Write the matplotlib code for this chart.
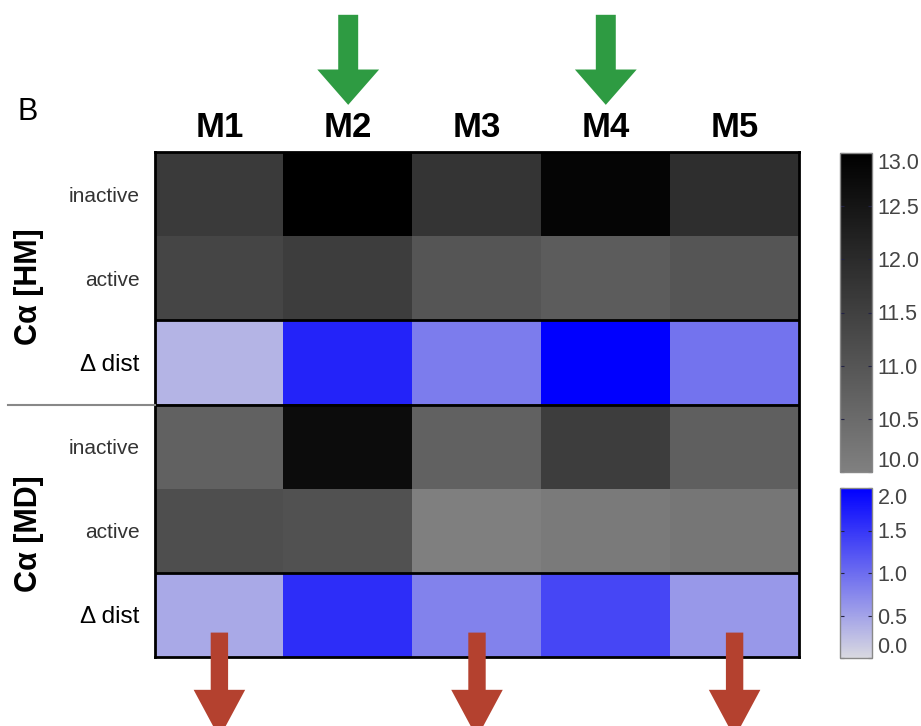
import numpy as np
import matplotlib
matplotlib.use("Agg")
import matplotlib.pyplot as plt
from matplotlib.colors import LinearSegmentedColormap, Normalize
from matplotlib.cm import ScalarMappable
from matplotlib.patches import FancyArrow
from matplotlib.lines import Line2D

plt.rcParams['font.family'] = ['Liberation Sans', 'DejaVu Sans']

# Ca distances for the five models
models = ['M1', 'M2', 'M3', 'M4', 'M5']
row_labels = ['inactive', 'active', '\u0394 dist', 'inactive', 'active', '\u0394 dist']
hm_inactive = [11.64, 13.0, 11.78, 12.86, 11.92]
hm_active = [11.36, 11.55, 11.0, 10.84, 11.0]
hm_delta = [0.34, 1.67, 0.85, 2.0, 0.93]
md_inactive = [10.70, 12.70, 10.70, 11.55, 10.77]
md_active = [11.17, 11.08, 10.0, 10.14, 10.23]
md_delta = [0.44, 1.58, 0.79, 1.35, 0.60]

green_cols = [1, 3]      # M2, M4
red_cols = [0, 2, 4]     # M1, M3, M5

W, H = 921, 726
fig = plt.figure(figsize=(W / 100, H / 100), dpi=100)


def box(x0, y0, x1, y1):
    return [x0 / W, 1 - y1 / H, (x1 - x0) / W, (y1 - y0) / H]


ax = fig.add_axes(box(155, 152, 799, 657))

dist = np.array([hm_inactive, hm_active, hm_delta, md_inactive, md_active, md_delta])
is_delta = np.array([False, False, True, False, False, True])

gray_cmap = LinearSegmentedColormap.from_list('g', [(0.5, 0.5, 0.5), (0, 0, 0)])
blue_cmap = LinearSegmentedColormap.from_list('b', [(0.85, 0.85, 0.88), (0, 0, 1)])
gray_norm = Normalize(10, 13)
blue_norm = Normalize(0, 2)

gray_part = np.ma.masked_where(np.repeat(is_delta[:, None], 5, axis=1), dist)
blue_part = np.ma.masked_where(np.repeat(~is_delta[:, None], 5, axis=1), dist)
ax.imshow(gray_part, cmap=gray_cmap, norm=gray_norm, aspect='auto',
          extent=(0, 5, 6, 0), interpolation='nearest')
ax.imshow(blue_part, cmap=blue_cmap, norm=blue_norm, aspect='auto',
          extent=(0, 5, 6, 0), interpolation='nearest')
ax.set_xlim(0, 5)
ax.set_ylim(6, 0)

for yb in [2, 3, 5]:
    ax.axhline(yb, color='black', lw=2)
for s in ax.spines.values():
    s.set_linewidth(2)

ax.set_xticks(np.arange(5) + 0.5)
ax.set_xticklabels(models, fontsize=25, fontweight='bold')
ax.xaxis.tick_top()
ax.tick_params(axis='x', length=0, pad=6)
ax.set_yticks(np.arange(6) + 0.5)
ax.set_yticklabels(row_labels)
for i, t in enumerate(ax.get_yticklabels()):
    if is_delta[i]:
        t.set_fontsize(17.5)
        t.set_color('black')
    else:
        t.set_fontsize(15)
        t.set_color('#333333')
ax.tick_params(axis='y', length=0, pad=11)

# group labels and separator
fig.text(29 / W, 1 - 287 / H, 'C\u03b1 [HM]', rotation=90, fontsize=22,
         fontweight='bold', ha='center', va='center')
fig.text(29 / W, 1 - 534 / H, 'C\u03b1 [MD]', rotation=90, fontsize=22,
         fontweight='bold', ha='center', va='center')
fig.add_artist(Line2D([8 / W, 155 / W], [1 - 405 / H, 1 - 405 / H],
                      color='#888888', lw=1.5))
fig.text(18 / W, 1 - 112 / H, 'B', fontsize=22, ha='left', va='center')

# arrows marking models
for c in green_cols:
    ax.add_patch(FancyArrow(c + 0.5, -1.63, 0, 1.07, width=0.155,
                            head_width=0.48, head_length=0.42,
                            length_includes_head=True, color='#2e9b42',
                            clip_on=False, lw=0))
for c in red_cols:
    ax.add_patch(FancyArrow(c + 0.5, 5.71, 0, 1.25, width=0.135,
                            head_width=0.40, head_length=0.57,
                            length_includes_head=True, color='#b4412f',
                            clip_on=False, lw=0, zorder=5))

# colour bars
cax1 = fig.add_axes(box(840, 153, 872, 472))
cb1 = fig.colorbar(ScalarMappable(norm=gray_norm, cmap=gray_cmap), cax=cax1,
                   ticks=[10, 10.5, 11, 11.5, 12, 12.5, 13])
cb1.ax.set_yticklabels(['10.0', '10.5', '11.0', '11.5', '12.0', '12.5', '13.0'])

cax2 = fig.add_axes(box(840, 488, 872, 658))
cb2 = fig.colorbar(ScalarMappable(norm=blue_norm, cmap=blue_cmap), cax=cax2,
                   ticks=[0, 0.5, 1, 1.5, 2])
cb2.ax.set_yticklabels(['0.0', '0.5', '1.0', '1.5', '2.0'])

for cb in [cb1, cb2]:
    cb.outline.set_edgecolor('#888888')
    cb.outline.set_linewidth(1)
    cb.ax.tick_params(left=True, right=True, direction='in', length=3,
                      width=0.8, color='#222244', pad=4, labelsize=15.5,
                      labelcolor='#444444')
    labels = cb.ax.get_yticklabels()
    labels[0].set_va('bottom')
    labels[-1].set_va('top')

fig.savefig('out.png', dpi=100)
